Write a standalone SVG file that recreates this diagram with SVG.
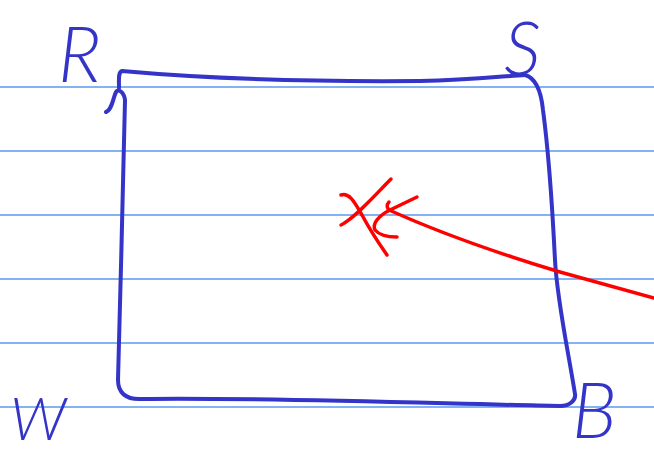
<svg xmlns="http://www.w3.org/2000/svg" width="654" height="455" viewBox="0 0 654 455">
<style>
.rule{stroke:#5a9af0;stroke-width:1.3}
.b{fill:none;stroke:#3434c8;stroke-width:4;stroke-linecap:round;stroke-linejoin:round}
.r{fill:none;stroke:#ff0000;stroke-width:3.5;stroke-linecap:round;stroke-linejoin:round}
.lbl{fill:#3434c8;font-family:Lato,"Liberation Sans",sans-serif;font-weight:300;font-style:italic}
</style>
<rect width="654" height="455" fill="#ffffff"/>
<g id="ruling">
<line class="rule" x1="0" y1="87" x2="654" y2="87"/>
<line class="rule" x1="0" y1="151" x2="654" y2="151"/>
<line class="rule" x1="0" y1="215" x2="654" y2="215"/>
<line class="rule" x1="0" y1="279" x2="654" y2="279"/>
<line class="rule" x1="0" y1="343" x2="654" y2="343"/>
<line class="rule" x1="0" y1="407" x2="654" y2="407"/>
</g>
<g id="rectangle">
<path class="b" d="M119,88 C119,80 118,72 122,71 C200,78 300,82 420,81 C470,80 505,76 525,75"/>
<path class="b" d="M106,112 C112,110 113,98 116,92 C118,88 124,92 125,100 C124,160 120,300 118,380 C118,392 125,400 142,399 C250,397 450,404 560,406 C570,406 576,400 575,394 C568,350 557,300 555,260 C552,200 547,140 543,110 C541,90 536,78 525,75"/>
</g>
<g id="labels">
<text class="lbl" x="58" y="82" font-size="76">R</text>
<text class="lbl" x="504" y="75" font-size="74">S</text>
<text class="lbl" x="10" y="440" font-size="60">W</text>
<text class="lbl" x="572" y="438" font-size="76">B</text>
</g>
<g id="cross">
<path class="r" d="M341,195 C350,192 356,205 362,215 C370,230 380,245 387,255"/>
<path class="r" d="M391,179 C375,195 355,218 341,225"/>
</g>
<g id="connectors">
<path class="r" d="M654,298 L560,272 Q460,242 389,210"/>
<path class="r" d="M389,202 C386,205 387,209 390,210 L417,197"/>
<path class="r" d="M390,210 C378,216 372,224 375,230 C380,236 390,237 397,237"/>
</g>
</svg>
